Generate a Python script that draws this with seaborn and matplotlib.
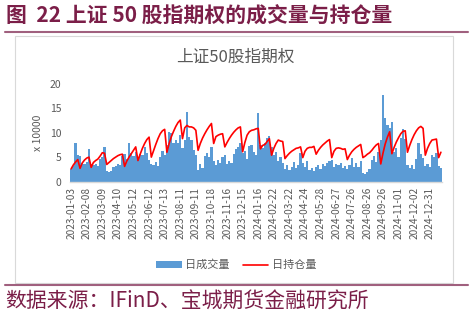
import matplotlib
matplotlib.use("Agg")
import matplotlib.pyplot as plt
import seaborn as sns
import pandas as pd
import numpy as np
from matplotlib.patches import Rectangle, Patch
from matplotlib.lines import Line2D

# ---------------- data (x 10000) ----------------
tick_labels = ["2023-01-03", "2023-02-08", "2023-03-09", "2023-04-10", "2023-05-12",
               "2023-06-12", "2023-07-13", "2023-08-11", "2023-09-11", "2023-10-18",
               "2023-11-16", "2023-12-15", "2024-01-16", "2024-02-22", "2024-03-22",
               "2024-04-24", "2024-05-28", "2024-06-27", "2024-07-26", "2024-08-26",
               "2024-09-26", "2024-11-01", "2024-12-02", "2024-12-31"]

volume = [2.6, 3.2, 7.9, 5.4, 5.3, 3.8, 3.5, 4.0, 6.7, 3.6,
          3.3, 3.6, 3.1, 4.6, 5.0, 7.1, 2.1, 1.9, 2.2, 3.0,
          3.2, 3.5, 3.3, 5.2, 5.6, 4.6, 7.9, 5.8, 5.2, 6.0,
          4.8, 5.6, 5.5, 7.0, 5.9, 4.4, 3.6, 3.3, 4.0, 3.2,
          5.0, 6.2, 5.4, 7.5, 10.2, 10.0, 8.0, 8.6, 7.8, 9.5,
          6.8, 8.5, 14.2, 9.2, 8.6, 6.5, 5.4, 2.4, 3.6, 2.8,
          5.2, 5.8, 5.0, 7.0, 4.2, 3.4, 4.5, 3.8, 5.0, 5.5,
          3.6, 4.2, 3.8, 5.6, 6.6, 7.0, 8.0, 5.8, 6.2, 4.6,
          7.2, 7.4, 6.0, 5.5, 14.0, 7.5, 6.8, 8.0, 9.0, 9.4,
          7.0, 5.4, 6.0, 4.3, 5.0, 3.8, 2.6, 3.4, 2.3, 3.0,
          4.0, 2.8, 3.4, 5.8, 3.8, 3.0, 4.2, 2.4, 2.8, 2.2,
          3.0, 3.3, 2.6, 3.6, 3.2, 3.8, 4.2, 4.4, 3.0, 3.6,
          3.4, 3.8, 2.8, 3.2, 2.6, 3.3, 4.9, 3.0, 3.8, 2.9,
          4.2, 1.8, 1.5, 2.0, 2.6, 4.4, 5.2, 4.0, 6.0, 8.5,
          17.7, 13.0, 11.5, 11.0, 12.2, 6.0, 6.8, 5.0, 9.0, 10.8,
          8.8, 3.4, 2.8, 3.4, 2.6, 4.6, 8.0, 5.6, 4.8, 3.2,
          3.6, 3.0, 5.4, 5.0, 5.8, 3.2, 2.8]

open_interest = [2.6, 3.4, 4.0, 4.5, 2.7, 3.8, 4.4, 4.8, 5.0, 2.9,
                 3.9, 4.3, 4.6, 5.2, 5.9, 5.8, 3.5, 3.9, 4.3, 4.7,
                 5.0, 5.3, 5.5, 5.6, 3.1, 4.2, 5.0, 5.7, 6.4, 7.1,
                 4.3, 5.6, 6.8, 7.8, 8.6, 9.1, 5.0, 6.3, 7.6, 8.8,
                 9.8, 10.4, 10.7, 6.0, 7.8, 9.2, 10.3, 11.3, 12.1, 12.6,
                 8.8, 11.0, 11.5, 11.2, 11.2, 11.0, 10.5, 6.4, 7.8, 8.9,
                 9.8, 10.6, 11.3, 11.9, 7.8, 9.2, 9.5, 9.7, 9.8, 7.1,
                 8.0, 8.8, 9.5, 10.1, 10.6, 11.0, 11.2, 6.1, 8.0, 9.5,
                 10.2, 10.5, 10.6, 10.8, 10.9, 6.7, 7.4, 7.6, 8.2, 8.8,
                 5.4, 6.8, 7.8, 8.5, 8.3, 8.2, 4.7, 5.3, 5.8, 6.2,
                 6.5, 6.8, 6.9, 7.1, 4.9, 6.2, 6.8, 7.0, 7.0, 7.2,
                 5.6, 6.4, 7.0, 7.5, 7.9, 8.3, 8.6, 4.9, 6.2, 6.8,
                 6.9, 6.8, 6.6, 6.7, 4.5, 5.4, 6.1, 6.6, 7.0, 7.3,
                 7.6, 4.9, 5.2, 5.6, 5.9, 6.4, 7.0, 7.5, 7.8, 3.6,
                 5.8, 7.7, 9.1, 10.2, 5.7, 7.0, 8.1, 9.0, 9.8, 10.3,
                 10.4, 6.0, 7.4, 8.6, 9.6, 10.4, 11.0, 11.3, 10.9, 5.4,
                 6.8, 7.8, 8.5, 8.6, 8.7, 4.9, 6.0]

series_names = ["日成交量", "日持仓量"]
title_text = "图  22 上证 50 股指期权的成交量与持仓量"
chart_title = "上证50股指期权"
source_text = "数据来源：IFinD、宝城期货金融研究所"

# ---------------- style ----------------
sns.set_style("white")
plt.rcParams["font.family"] = ["Noto Sans CJK SC", "DejaVu Sans"]

BLUE = "#5B9BD5"
RED = "#FF0000"
GREY = "#595959"
MAROON = "#7B1E48"
RULE = "#A0607E"

W, H = 473, 320
fig = plt.figure(figsize=(W / 100, H / 100), dpi=100)

def fx(px):
    return px / W

def fy(py):
    return 1 - py / H

# header / footer
fig.text(fx(6), fy(16), title_text, fontsize=15, fontweight="bold",
         color=MAROON, ha="left", va="center")
fig.add_artist(Line2D([fx(5), fx(468)], [fy(32), fy(32)], color=RULE, lw=1.5))
fig.add_artist(Line2D([fx(5), fx(468)], [fy(285), fy(285)], color=RULE, lw=1.5))
fig.add_artist(Rectangle((fx(15), fy(283)), fx(453) - fx(15), fy(36) - fy(283),
                         fill=False, edgecolor="#D9D9D9", lw=0.8))
fig.text(fx(5), fy(302), source_text, fontsize=15, color=MAROON,
         fontweight="light", ha="left", va="center")
fig.text(fx(235), fy(57), chart_title, fontsize=12, color=GREY,
         ha="center", va="center")

# plot area
left, right, top, bottom = 70, 442, 84, 181.5
ax = fig.add_axes([fx(left), fy(bottom), fx(right) - fx(left), fy(top) - fy(bottom)])

n = len(volume)
df = pd.DataFrame({"idx": np.arange(n), "vol": volume, "oi": open_interest})

sns.barplot(data=df, x="idx", y="vol", color=BLUE, saturation=1, width=1.0,
            linewidth=0, ax=ax)
sns.lineplot(data=df, x="idx", y="oi", color=RED, lw=1.2, ax=ax)

ax.set_xlim(-0.5, n - 0.5)
ax.set_ylim(0, 20)
ax.set_yticks([0, 5, 10, 15, 20])
ax.set_yticklabels(["0", "5", "10", "15", "20"])
tick_pos = [7 * k for k in range(len(tick_labels))]
ax.set_xticks(tick_pos)
ax.set_xticklabels(tick_labels, rotation=90)
ax.tick_params(axis="x", labelsize=7.3, colors=GREY, length=0, pad=4)
ax.tick_params(axis="y", labelsize=7.5, colors=GREY, length=0, pad=6)
ax.set_xlabel("")
ax.set_ylabel("x 10000", fontsize=7.5, color=GREY, labelpad=5)
for s in ["top", "right", "left"]:
    ax.spines[s].set_visible(False)
ax.spines["bottom"].set_color("#D9D9D9")
ax.spines["bottom"].set_linewidth(1.0)
ax.patch.set_alpha(0)
ax.grid(False)

handles = [Patch(facecolor=BLUE, edgecolor="none"),
           Line2D([0], [0], color=RED, lw=1.2)]
fig.legend(handles, series_names, loc="center", bbox_to_anchor=(fx(236), fy(265)),
           ncol=2, frameon=False, fontsize=8, labelcolor=GREY,
           handlelength=2.3, handleheight=0.6, columnspacing=1.2, handletextpad=0.3)

fig.savefig("out.png", dpi=100)
